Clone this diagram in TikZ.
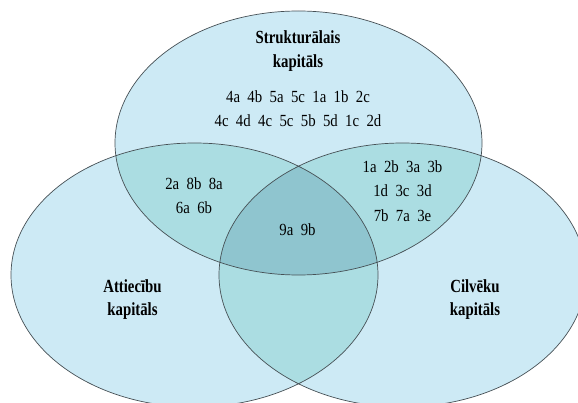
\documentclass[tikz,border=0pt]{standalone}
\usepackage{fontspec}
\setmainfont{Liberation Serif}
% narrow faces for the set names and for the item codes
\newcommand{\setname}[1]{\scalebox{0.8}[1]{\fontsize{18.5}{25}\selectfont\bfseries #1}}
\newcommand{\codes}[1]{\scalebox{0.87}[1]{\fontsize{17}{25}\selectfont #1}}
\begin{document}
\begin{tikzpicture}[x=1pt,y=-1pt,
  single/.style={fill={rgb,255:red,205;green,234;blue,245}},
  double/.style={fill={rgb,255:red,171;green,221;blue,226}},
  triple/.style={fill={rgb,255:red,143;green,197;blue,207}},
  rim/.style={draw={rgb,255:red,70;green,80;blue,85}, line width=0.7pt},
  lbl/.style={anchor=base, inner sep=0pt},
  title/.style={anchor=base, inner sep=0pt}]
\useasboundingbox (0,0) rectangle (578,403);
\clip (0,0) rectangle (578,403);
% the three sets
\def\setS{(298.5,143) ellipse [x radius=183.5pt, y radius=132pt]}
\def\setA{(194.5,275) ellipse [x radius=183.5pt, y radius=132pt]}
\def\setC{(402.5,275) ellipse [x radius=183.5pt, y radius=132pt]}
\fill[single] \setS;
\fill[single] \setA;
\fill[single] \setC;
% pairwise overlaps
\begin{scope}
  \clip \setS;
  \fill[double] \setA;
  \fill[double] \setC;
\end{scope}
\begin{scope}
  \clip \setA;
  \fill[double] \setC;
\end{scope}
% common part of all three
\begin{scope}
  \clip \setS;
  \clip \setA;
  \fill[triple] \setC;
\end{scope}
\draw[rim] \setS;
\draw[rim] \setA;
\draw[rim] \setC;
% labels
\node[title] (tS1) at (298,44) {\setname{Strukturālais}};
\node[title] (tS2) at (298,68) {\setname{kapitāls}};
\node[lbl] (s1) at (298,103) {\codes{4a\ \ 4b\ \ 5a\ \ 5c\ \ 1a\ \ 1b\ \ 2c}};
\node[lbl] (s2) at (298,127) {\codes{4c\ \ 4d\ \ 4c\ \ 5c\ \ 5b\ \ 5d\ \ 1c\ \ 2d}};
\node[lbl] (sa1) at (194,190) {\codes{2a\ \ 8b\ \ 8a}};
\node[lbl] (sa2) at (194,214) {\codes{6a\ \ 6b}};
\node[lbl] (sc1) at (402.5,173) {\codes{1a\ \ 2b\ \ 3a\ \ 3b}};
\node[lbl] (sc2) at (402.5,197) {\codes{1d\ \ 3c\ \ 3d}};
\node[lbl] (sc3) at (402.5,222) {\codes{7b\ \ 7a\ \ 3e}};
\node[lbl] (all) at (297.5,236) {\codes{9a\ \ 9b}};
\node[title] (tA1) at (132.5,292) {\setname{Attiecību}};
\node[title] (tA2) at (132.5,315) {\setname{kapitāls}};
\node[title] (tC1) at (475,292) {\setname{Cilvēku}};
\node[title] (tC2) at (475,315) {\setname{kapitāls}};
\end{tikzpicture}
\end{document}
